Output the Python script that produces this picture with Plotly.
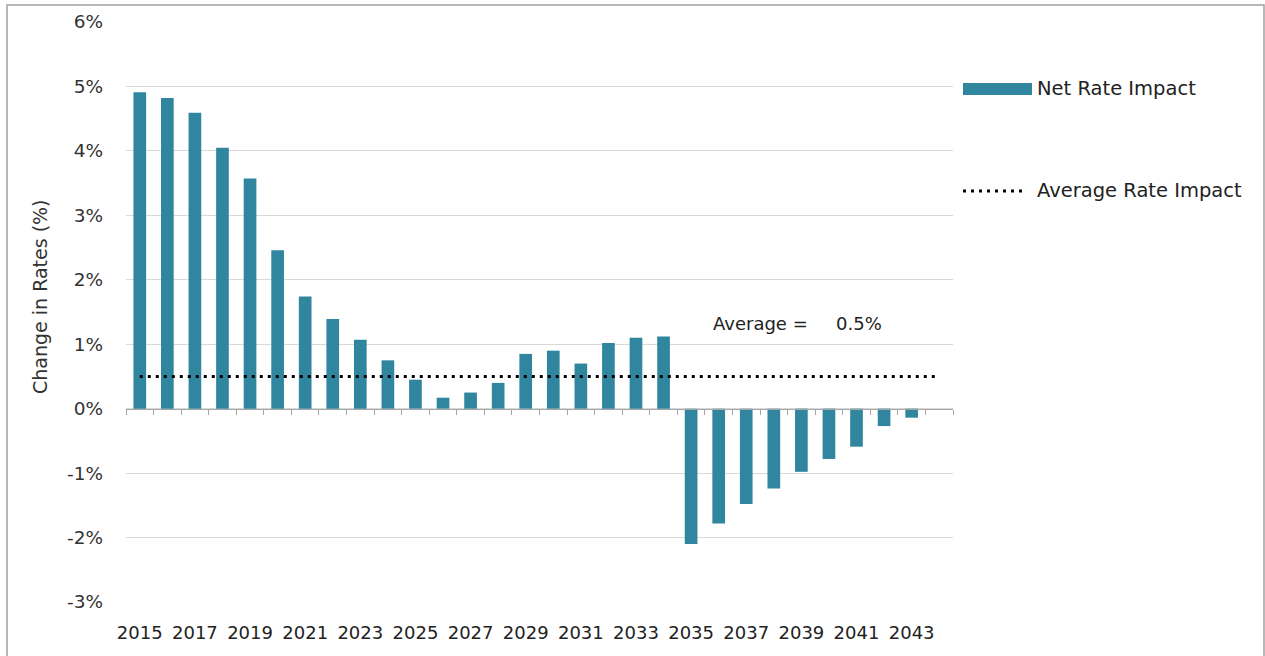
import plotly.graph_objects as go

# Net rate impact by year (% change in rates)
years = list(range(2015, 2045))
net_rate_impact = [4.91, 4.82, 4.59, 4.05, 3.57, 2.46, 1.74, 1.39, 1.07, 0.75,
                   0.45, 0.17, 0.25, 0.40, 0.85, 0.90, 0.70, 1.02, 1.10, 1.12,
                   -2.10, -1.78, -1.48, -1.24, -0.98, -0.78, -0.59, -0.27, -0.14, None]
average_rate = 0.5

y_tick_vals = list(range(-3, 7))
y_tick_text = [f"{v}%" for v in y_tick_vals]
x_tick_vals = years[::2]
x_tick_text = [str(y) for y in x_tick_vals]
series_names = ["Net Rate Impact", "Average Rate Impact"]
y_title = "Change in Rates (%)"

BAR_COLOR = "#31869F"
TEXT_COLOR = "#333333"
LABEL_COLOR = "#222222"
FONT = "DejaVu Sans"

# plot-area geometry in pixels, used to place paper-referenced decorations
W, H = 1265, 656
L, R, T, B = 126, 312, 22, 54
PW, PH = W - L - R, H - T - B


def px(x):
    return (x - L) / PW


def py(y):
    return (H - B - y) / PH


fig = go.Figure()

fig.add_trace(go.Bar(
    x=years, y=net_rate_impact, name=series_names[0],
    marker=dict(color=BAR_COLOR, line=dict(width=0)),
    width=0.46, showlegend=False,
))

fig.add_trace(go.Scatter(
    x=years, y=[average_rate] * len(years), name=series_names[1],
    mode="lines", line=dict(color="#000000", width=3, dash="3px,5px"),
    xaxis="x2", showlegend=False,
))

x_range = [years[0] - 0.5, years[-1] + 0.5]
y_range = [y_tick_vals[0], y_tick_vals[-1]]

fig.update_layout(
    width=W, height=H,
    margin=dict(l=L, r=R, t=T, b=B),
    paper_bgcolor="white", plot_bgcolor="white",
    font=dict(family=FONT, size=18, color=TEXT_COLOR),
    xaxis=dict(
        range=x_range, tickmode="array", tickvals=x_tick_vals, ticktext=x_tick_text,
        showgrid=False, showline=False, zeroline=False, ticks="",
        tickfont=dict(size=18, color=LABEL_COLOR), ticklabelstandoff=18,
    ),
    xaxis2=dict(
        range=x_range, overlaying="x", anchor="free",
        position=(0 - y_range[0]) / (y_range[1] - y_range[0]),
        tickmode="array", tickvals=[years[0] - 0.5 + i for i in range(len(years) + 1)],
        ticks="outside", ticklen=5, tickwidth=1, tickcolor="#a6a6a6",
        showline=True, linecolor="#a6a6a6", linewidth=1,
        showticklabels=False, showgrid=False, zeroline=False,
    ),
    yaxis=dict(
        range=y_range, tickmode="array", tickvals=y_tick_vals, ticktext=y_tick_text,
        showgrid=True, gridcolor="#d9d9d9", gridwidth=1, zeroline=False,
        showline=False, ticks="", ticklabelstandoff=22,
        tickfont=dict(size=18.5, color=TEXT_COLOR),
    ),
    bargap=0.5,
)

# Y-axis title
fig.add_annotation(x=px(40), y=py(297), xref="paper", yref="paper",
                   xanchor="center", yanchor="middle", showarrow=False,
                   textangle=-90, text=y_title,
                   font=dict(size=19, color=TEXT_COLOR))

# Average label
fig.add_annotation(x=px(711), y=py(323), xref="paper", yref="paper",
                   xanchor="left", yanchor="middle", showarrow=False,
                   text="Average =", font=dict(size=18, color=LABEL_COLOR))
fig.add_annotation(x=px(834), y=py(323), xref="paper", yref="paper",
                   xanchor="left", yanchor="middle", showarrow=False,
                   text=f"{average_rate:.1f}%", font=dict(size=18, color=LABEL_COLOR))

# Legend
fig.add_shape(type="rect", xref="paper", yref="paper",
              x0=px(963), x1=px(1032), y0=py(95), y1=py(83),
              fillcolor=BAR_COLOR, line=dict(width=0))
fig.add_shape(type="line", xref="paper", yref="paper",
              x0=px(963), x1=px(1027), y0=py(191), y1=py(191),
              line=dict(color="#000000", width=3, dash="3px,5px"))
for name, ypos in zip(series_names, [89, 191]):
    fig.add_annotation(x=px(1035), y=py(ypos), xref="paper", yref="paper",
                       xanchor="left", yanchor="middle", showarrow=False,
                       text=name, font=dict(size=19.5, color=LABEL_COLOR))

# Chart border
fig.add_shape(type="rect", xref="paper", yref="paper",
              x0=px(7), x1=px(1264), y0=py(700), y1=py(5),
              line=dict(color="#a0a0a0", width=1.5), fillcolor="rgba(0,0,0,0)",
              layer="below")

fig.write_html("out.html")
